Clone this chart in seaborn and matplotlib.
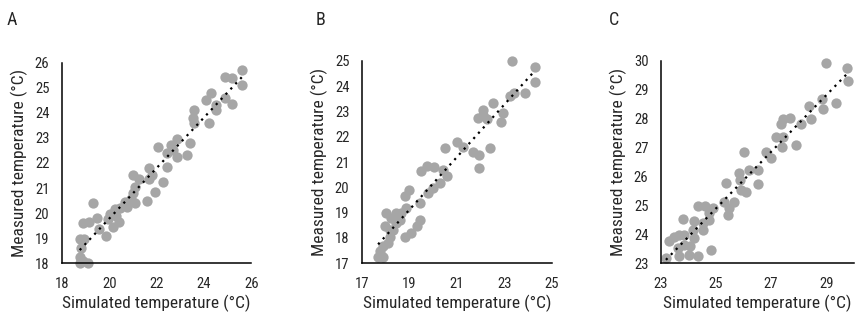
import numpy as np
import pandas as pd
import matplotlib
matplotlib.use("Agg")
import matplotlib.pyplot as plt
import seaborn as sns

# panel A
sim_a = [25.6, 24.9, 25.2, 25.6, 24.9, 25.2, 24.3, 24.1, 24.5, 24.5, 24.2, 23.6, 23.55, 23.6,
         23.4, 23.3, 22.85, 22.6, 22.45, 22.85, 22.7, 22.05, 22.45, 22.25, 21.95, 21.7, 21.8,
         21.7, 21.6, 21.0, 21.25, 21.1, 21.0, 20.9, 21.1, 20.65, 20.75, 20.45, 20.25, 20.05,
         20.3, 20.4, 20.15, 19.95, 19.85, 19.55, 19.3, 19.5, 19.15, 18.9, 18.95, 18.75, 18.8,
         18.75, 18.9, 19.1, 18.75]
meas_a = [25.7, 25.43, 25.4, 25.1, 24.6, 24.35, 24.8, 24.5, 24.3, 24.1, 23.6, 24.1, 23.8, 23.6,
          22.8, 22.3, 22.95, 22.7, 22.4, 22.25, 22.5, 22.65, 21.85, 21.25, 20.85, 21.8, 21.5,
          21.35, 20.5, 21.5, 21.35, 21.05, 20.8, 20.55, 20.4, 20.45, 20.25, 20.2, 20.15, 19.95,
          19.9, 19.65, 19.45, 19.75, 19.1, 19.35, 20.4, 19.8, 19.65, 19.6, 18.95, 18.95, 18.6,
          18.25, 18.1, 18.0, 18.0]

# panel B
sim_b = [23.31, 24.27, 24.27, 23.85, 23.4, 23.24, 22.53, 22.08, 21.9, 22.1, 22.25, 22.92, 22.85,
         22.4, 21.93, 21.94, 21.66, 21.27, 20.99, 20.49, 20.56, 20.42, 20.03, 19.72, 19.5, 20.28,
         20.0, 19.79, 19.44, 18.99, 18.8, 18.87, 18.66, 18.45, 18.03, 18.24, 18.59, 19.44, 19.3,
         19.08, 18.8, 18.31, 18.17, 18.1, 17.96, 17.89, 17.75, 17.68, 17.89, 18.17, 18.45]
meas_b = [25.0, 24.77, 24.18, 23.75, 23.75, 23.6, 23.35, 23.06, 22.73, 22.86, 22.7, 22.93, 22.6,
          21.57, 20.75, 21.28, 21.41, 21.58, 21.81, 21.55, 20.43, 20.69, 20.82, 20.85, 20.66, 20.16,
          19.96, 19.77, 19.37, 19.9, 19.64, 19.17, 18.98, 18.98, 18.98, 18.78, 18.71, 18.71, 18.45,
          18.19, 18.05, 18.32, 18.05, 17.79, 18.45, 17.66, 17.46, 17.26, 17.26, 18.32, 18.58]

# panel C
sim_c = [29.0, 29.76, 29.78, 29.36, 28.85, 28.88, 28.39, 28.45, 28.09, 27.91, 27.7, 27.42, 27.36,
         27.18, 27.42, 27.39, 26.82, 27.0, 26.52, 26.52, 26.21, 26.0, 25.85, 25.87, 26.09, 25.91,
         25.36, 25.3, 25.67, 25.48, 25.45, 24.88, 24.76, 24.36, 24.61, 24.76, 24.52, 24.21, 24.52,
         24.15, 23.79, 24.82, 24.33, 24.03, 24.07, 23.85, 23.67, 23.61, 23.48, 23.67, 23.85, 23.3,
         23.18, 24.21]
meas_c = [29.92, 29.77, 29.29, 28.54, 28.67, 28.33, 28.44, 27.99, 27.82, 27.09, 28.02, 27.98, 27.82,
          27.36, 27.38, 27.01, 26.86, 26.63, 26.23, 25.75, 26.23, 26.86, 26.12, 25.88, 25.45, 25.54,
          25.79, 25.13, 25.13, 24.9, 24.67, 24.9, 24.73, 24.96, 24.96, 24.5, 24.38, 24.44, 24.15,
          24.15, 24.52, 23.46, 23.23, 23.29, 23.58, 23.63, 23.23, 23.52, 23.92, 23.98, 23.98, 23.75,
          23.17, 23.86]

panel_letters = ["A", "B", "C"]
limits = [(18, 26), (17, 25), (23, 30)]
xticks = [[18, 20, 22, 24, 26], [17, 19, 21, 23, 25], [23, 25, 27, 29]]
yticks = [list(range(18, 27)), list(range(17, 26)), list(range(23, 31))]

sns.set_style("white")
plt.rcParams["font.family"] = ["Roboto Condensed", "DejaVu Sans"]

fig = plt.figure(figsize=(8.68, 3.24), dpi=100)
positions = [
    [0.0714, 0.188, 0.218, 0.618],
    [0.417, 0.188, 0.219, 0.624],
    [0.7615, 0.188, 0.222, 0.624],
]
datasets = [(sim_a, meas_a), (sim_b, meas_b), (sim_c, meas_c)]
letter_x = [0.007, 0.364, 0.702]

for i, (sim, meas) in enumerate(datasets):
    ax = fig.add_axes(positions[i])
    df = pd.DataFrame({"sim": sim, "meas": meas})
    sns.scatterplot(data=df, x="sim", y="meas", ax=ax, color="#a6a6a6",
                    s=55, linewidth=0, alpha=1, zorder=2, clip_on=False)
    sns.regplot(data=df, x="sim", y="meas", ax=ax, scatter=False, ci=None,
                line_kws={"color": "black", "lw": 1.6, "ls": (0, (1, 2.2)), "zorder": 3})
    lo, hi = limits[i]
    ax.set_xlim(lo, hi)
    ax.set_ylim(lo, hi)
    ax.set_xticks(xticks[i])
    ax.set_yticks(yticks[i])
    ax.tick_params(axis="y", length=0, labelsize=10.5, pad=9)
    ax.tick_params(axis="x", length=0, labelsize=10.5, pad=10)
    ax.set_xlabel("Simulated temperature (\u00b0C)", fontsize=12.5, labelpad=3)
    ax.set_ylabel("Measured temperature (\u00b0C)", fontsize=12.5, labelpad=5)
    sns.despine(ax=ax)
    for side in ["left", "bottom"]:
        ax.spines[side].set_color("black")
        ax.spines[side].set_linewidth(1.1)
    fig.text(letter_x[i], 0.91, panel_letters[i], fontsize=13, ha="left", va="bottom")

fig.savefig("out.png", dpi=100)
